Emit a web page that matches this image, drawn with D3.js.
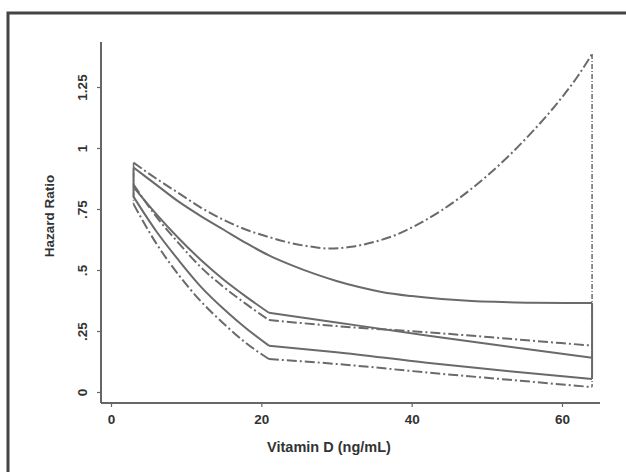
<!DOCTYPE html>
<html>
<head>
<meta charset="utf-8">
<script src="https://cdn.jsdelivr.net/npm/d3@7"></script>
<style>
  html, body { margin: 0; padding: 0; background: #fff; }
  svg { display: block; }
  text { font-family: "Liberation Sans", Arial, sans-serif; fill: #333; }
</style>
</head>
<body>
<svg id="chart" width="626" height="472"></svg>
<script>
// ---- data ----
const xTicks = [0, 20, 40, 60];
const yTicks = [0, 0.25, 0.5, 0.75, 1, 1.25];
const yTickLabels = ["0", ".25", ".5", ".75", "1", "1.25"];
const xLabel = "Vitamin D (ng/mL)";
const yLabel = "Hazard Ratio";

// solid lines
const solidUpperX = [3, 6, 9, 12, 15, 18, 21, 24, 27, 30, 33, 36, 40, 44, 48, 52, 56, 64];
const solidUpperY = [0.92, 0.85, 0.78, 0.72, 0.665, 0.61, 0.56, 0.52, 0.485, 0.455, 0.43, 0.41, 0.393, 0.381, 0.373, 0.369, 0.366, 0.365];

const solidMidX1 = [3, 6, 9, 12, 15, 18, 21];
const solidMidY1 = [0.84, 0.73, 0.63, 0.54, 0.46, 0.39, 0.325];
const solidMidX2 = [21, 30, 42, 53, 64];
const solidMidY2 = [0.325, 0.285, 0.232, 0.185, 0.14];

const solidLowX1 = [3, 6, 9, 12, 15, 18, 21];
const solidLowY1 = [0.80, 0.66, 0.54, 0.43, 0.34, 0.26, 0.19];
const solidLowX2 = [21, 30, 42, 53, 64];
const solidLowY2 = [0.19, 0.163, 0.12, 0.085, 0.053];

// dash-dot lines
const dashUpperX = [3, 6, 9, 12, 15, 18, 21, 24, 27, 29, 32, 35, 38, 41, 44, 47, 50, 53, 56, 59, 62, 64];
const dashUpperY = [0.94, 0.875, 0.815, 0.755, 0.705, 0.665, 0.635, 0.61, 0.594, 0.588, 0.595, 0.615, 0.645, 0.69, 0.745, 0.81, 0.885, 0.97, 1.065, 1.17, 1.29, 1.385];

const dashMidX1 = [3, 6, 9, 12, 15, 18, 21];
const dashMidY1 = [0.85, 0.72, 0.61, 0.51, 0.43, 0.36, 0.295];
const dashMidX2 = [21, 30, 42, 53, 64];
const dashMidY2 = [0.295, 0.27, 0.245, 0.218, 0.19];

const dashLowX1 = [3, 6, 9, 12, 15, 18, 21];
const dashLowY1 = [0.77, 0.61, 0.48, 0.37, 0.28, 0.20, 0.135];
const dashLowX2 = [21, 30, 42, 53, 64];
const dashLowY2 = [0.135, 0.115, 0.08, 0.05, 0.02];

// ---- drawing ----
const svg = d3.select("#chart");
const x = d3.scaleLinear().domain([0, 60]).range([111, 562]);
const y = d3.scaleLinear().domain([0, 1.25]).range([392, 87]);
const lineCol = "#6a6a6a";
const axisCol = "#666";

// outer frame
svg.append("path")
  .attr("d", "M8,480 L8,13 L640,13")
  .attr("fill", "none").attr("stroke", "#444").attr("stroke-width", 3);

// axes
const yAxisG = svg.append("g").attr("transform", "translate(101,0)");
yAxisG.call(d3.axisLeft(y).tickValues(yTicks).tickSize(4).tickFormat((d, i) => yTickLabels[i]));
yAxisG.select(".domain").remove();
yAxisG.append("line").attr("x1", 0).attr("x2", 0).attr("y1", 42).attr("y2", 403)
  .attr("stroke", axisCol).attr("stroke-width", 2);
yAxisG.selectAll(".tick line").attr("stroke", axisCol).attr("stroke-width", 1.2);
yAxisG.selectAll(".tick text")
  .attr("x", 0).attr("y", 0).attr("dy", null)
  .attr("transform", "translate(-14,0) rotate(-90)")
  .attr("text-anchor", "middle")
  .attr("font-size", 13.5).attr("font-weight", "bold")
  .attr("fill", "#333")
  .style("font-family", "'Liberation Sans', Arial, sans-serif");

const xAxisG = svg.append("g").attr("transform", "translate(0,403)");
xAxisG.call(d3.axisBottom(x).tickValues(xTicks).tickSize(4).tickFormat(d3.format("d")));
xAxisG.select(".domain").remove();
xAxisG.append("line").attr("x1", 101).attr("x2", 600).attr("y1", 0).attr("y2", 0)
  .attr("stroke", axisCol).attr("stroke-width", 2);
xAxisG.selectAll(".tick line").attr("stroke", axisCol).attr("stroke-width", 1.2);
xAxisG.selectAll(".tick text")
  .attr("y", 11).attr("dy", "0.71em")
  .attr("font-size", 13.5).attr("font-weight", "bold")
  .attr("fill", "#333")
  .style("font-family", "'Liberation Sans', Arial, sans-serif");

svg.append("text")
  .attr("x", 329).attr("y", 452)
  .attr("text-anchor", "middle")
  .attr("font-size", 14.5).attr("font-weight", "bold")
  .text(xLabel);

svg.append("text")
  .attr("transform", "translate(54,216) rotate(-90)")
  .attr("text-anchor", "middle")
  .attr("font-size", 13.5).attr("font-weight", "bold")
  .text(yLabel);

// lines
const zip = (xs, ys) => xs.map((v, i) => [v, ys[i]]);
const gen = d3.line().x(d => x(d[0])).y(d => y(d[1])).curve(d3.curveMonotoneX);
const DASH = "10,3,2,3";

function draw(xs, ys, dashed) {
  svg.append("path")
    .attr("d", gen(zip(xs, ys)))
    .attr("fill", "none")
    .attr("stroke", lineCol)
    .attr("stroke-width", 2)
    .attr("stroke-linejoin", "round")
    .attr("stroke-dasharray", dashed ? DASH : null);
}
function vline(xv, y0, y1, dashed) {
  svg.append("line")
    .attr("x1", x(xv)).attr("x2", x(xv))
    .attr("y1", y(y0)).attr("y2", y(y1))
    .attr("stroke", lineCol).attr("stroke-width", dashed ? 1.5 : 2)
    .attr("stroke-dasharray", dashed ? "5,2,1,2" : null);
}

draw(solidUpperX, solidUpperY, false);
draw(solidMidX1, solidMidY1, false);
draw(solidMidX2, solidMidY2, false);
draw(solidLowX1, solidLowY1, false);
draw(solidLowX2, solidLowY2, false);

draw(dashUpperX, dashUpperY, true);
draw(dashMidX1, dashMidY1, true);
draw(dashMidX2, dashMidY2, true);
draw(dashLowX1, dashLowY1, true);
draw(dashLowX2, dashLowY2, true);

// range-area edges
const nS = solidUpperX.length - 1;
vline(solidUpperX[0], solidUpperY[0], solidLowY1[0], false);
vline(solidUpperX[nS], solidUpperY[nS], solidLowY2[solidLowY2.length - 1], false);
const nD = dashUpperX.length - 1;
vline(dashUpperX[0], dashUpperY[0], dashLowY1[0], true);
vline(dashUpperX[nD], dashUpperY[nD], dashLowY2[dashLowY2.length - 1], true);
</script>
</body>
</html>
